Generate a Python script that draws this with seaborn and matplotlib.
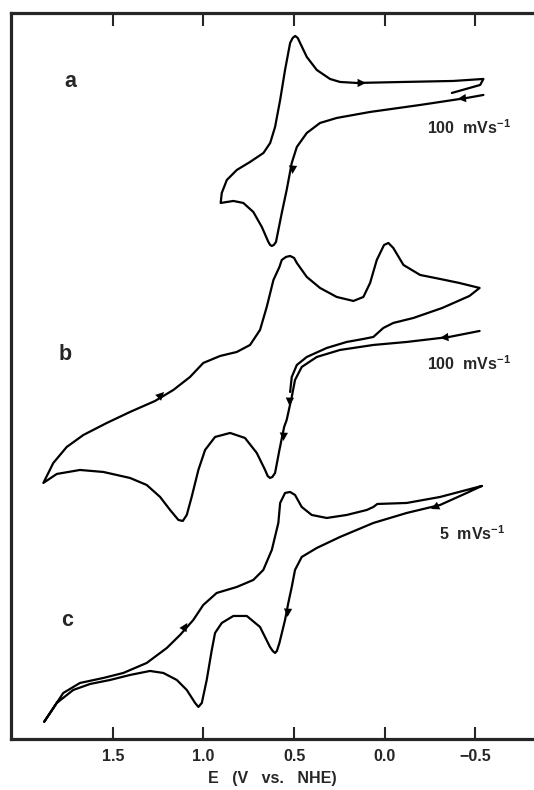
"""
Cyclic voltammograms a, b, c (E vs NHE), stacked with offsets
"""

import matplotlib
matplotlib.use('Agg')
import matplotlib.pyplot as plt
import seaborn as sns
import pandas as pd

# --- data (potential in V, current in arbitrary offset units) ---
a_E = [-0.544, -0.452, -0.195, 0.081, 0.265, 0.357, 0.430, 0.485, 0.513, 0.541, 0.568, 0.600,
       0.612, 0.623, 0.632, 0.642, 0.678, 0.725, 0.780, 0.835, 0.905, 0.899, 0.871, 0.816,
       0.743, 0.669, 0.632, 0.605, 0.577, 0.550, 0.522, 0.508, 0.494, 0.480, 0.467, 0.430,
       0.375, 0.302, 0.247, 0.154, -0.103, -0.378, -0.544, -0.526, -0.370]
a_I = [644, 641, 634, 627, 621, 616, 606, 592, 576, 549, 526, 497,
       494, 493, 494, 497, 512, 527, 536, 538, 536, 546, 559, 569,
       577, 586, 596, 612, 639, 669, 696, 701, 703, 701, 696, 682,
       669, 660, 657, 656, 657, 658, 660, 654, 646]

b_E = [-0.523, -0.355, -0.121, 0.063, 0.247, 0.375, 0.458, 0.495, 0.513, 0.541, 0.555, 0.581,
       0.605, 0.620, 0.633, 0.646, 0.660, 0.706, 0.771, 0.853, 0.936, 0.991, 1.028, 1.065,
       1.092, 1.114, 1.138, 1.184, 1.239, 1.313, 1.405, 1.552, 1.681, 1.809, 1.883,
       1.828, 1.754, 1.662, 1.533, 1.405, 1.267, 1.166, 1.074, 1.001, 0.908, 0.816, 0.743,
       0.688, 0.651, 0.614, 0.581, 0.568, 0.545, 0.522, 0.500, 0.485, 0.430, 0.357, 0.265,
       0.173, 0.118, 0.081, 0.044, 0.004, -0.020, -0.047, -0.103, -0.195, -0.305, -0.411,
       -0.523, -0.467, -0.317, -0.158, -0.047, 0.008, 0.063, 0.118, 0.210, 0.320, 0.430,
       0.485, 0.513, 0.522]
b_I = [408, 402, 397, 394, 389, 382, 372, 359, 342, 319, 312, 289,
       266, 262, 261, 263, 269, 286, 301, 306, 302, 289, 269, 242,
       224, 218, 219, 229, 242, 254, 261, 267, 269, 265, 256,
       276, 292, 304, 316, 327, 338, 349, 362, 376, 383, 387, 394,
       409, 432, 459, 472, 479, 482, 483, 481, 476, 462, 451, 442,
       438, 442, 456, 479, 494, 496, 491, 474, 464, 460, 456,
       451, 443, 431, 421, 416, 411, 402, 400, 397, 391, 382,
       374, 362, 347]

c_E = [-0.535, -0.452, -0.305, -0.121, 0.063, 0.247, 0.375, 0.458, 0.495, 0.513, 0.532, 0.550,
       0.581, 0.595, 0.605, 0.618, 0.633, 0.688, 0.761, 0.835, 0.899, 0.936, 0.954, 0.982,
       1.009, 1.028, 1.046, 1.092, 1.147, 1.221, 1.295, 1.405, 1.515, 1.625, 1.718, 1.809,
       1.879, 1.846, 1.773, 1.681, 1.552, 1.442, 1.313, 1.202, 1.129, 1.056, 1.001, 0.927,
       0.816, 0.725, 0.670, 0.623, 0.587, 0.577, 0.550, 0.522, 0.495, 0.458, 0.403, 0.320,
       0.210, 0.099, 0.063, 0.041, -0.121, -0.305, -0.535]
c_I = [253, 246, 234, 226, 216, 202, 191, 182, 169, 152, 136, 119,
       96, 88, 86, 88, 92, 112, 123, 123, 116, 106, 89, 59,
       36, 32, 36, 49, 59, 66, 68, 64, 59, 55, 49, 36,
       17, 26, 46, 56, 61, 66, 76, 91, 104, 119, 134, 146,
       152, 159, 169, 189, 216, 236, 246, 247, 244, 232, 224, 221,
       224, 229, 232, 235, 236, 242, 253]

# arrow heads: (E, I, dE, dI) pointing along the scan direction
arrows = [(0.154, 656, -0.05, 0), (-0.452, 641, 0.05, -1), (0.504, 579, 0.005, -14),
          (-0.355, 402, 0.05, -1), (0.522, 347, 0.003, -14), (0.555, 312, 0.004, -14),
          (1.267, 338, -0.05, 9),
          (-0.305, 234, 0.05, -4), (0.532, 136, 0.004, -14), (1.129, 104, -0.04, 12)]

curve_labels = ['a', 'b', 'c']
label_pos = [(1.736, 657), (1.763, 384), (1.751, 118)]
rate_labels = ['100  mVs$^{\\mathbf{-1}}$', '100  mVs$^{\\mathbf{-1}}$', '5  mVs$^{\\mathbf{-1}}$']
rate_pos = [(-0.233, 611), (-0.233, 375), (-0.300, 205)]

ticks = [1.5, 1.0, 0.5, 0.0, -0.5]
tick_labels = ['1.5', '1.0', '0.5', '0.0', '\u22120.5']

sns.set_style('ticks')
plt.rcParams['font.family'] = ['Liberation Sans', 'DejaVu Sans']
plt.rcParams['mathtext.fontset'] = 'custom'
plt.rcParams['mathtext.rm'] = 'Liberation Sans'
plt.rcParams['mathtext.bf'] = 'Liberation Sans:bold'

fig = plt.figure(figsize=(5.34, 7.90), dpi=100)
ax = fig.add_axes([0.0197, 0.0646, 0.9803, 0.919])

for E, I in [(a_E, a_I), (b_E, b_I), (c_E, c_I)]:
    df = pd.DataFrame({'E': E, 'I': I})
    sns.lineplot(data=df, x='E', y='I', sort=False, estimator=None,
                 color='black', linewidth=1.6, ax=ax)

for x, y, dx, dy in arrows:
    ax.annotate('', xy=(x + dx, y + dy), xytext=(x, y),
                arrowprops=dict(arrowstyle='-|>', color='black', lw=0,
                                mutation_scale=15, shrinkA=0, shrinkB=0))

for lab, (x, y) in zip(curve_labels, label_pos):
    ax.text(x, y, lab, fontsize=15.5, fontweight='bold', ha='center', va='center')
for lab, (x, y) in zip(rate_labels, rate_pos):
    ax.text(x, y, lab, fontsize=11.5, fontweight='bold', ha='left', va='center')

ax.set_xlim(2.064, -0.823)
ax.set_ylim(0, 726)
ax.set_xticks(ticks)
ax.set_xticklabels(tick_labels, fontsize=11.5, fontweight='bold')
ax.set_yticks([])
ax.tick_params(axis='x', direction='in', length=9, width=1.5, top=True, bottom=True,
               labeltop=False, pad=7)
ax.set_xlabel('E   (V   vs.   NHE)', fontsize=11.5, fontweight='bold')
ax.xaxis.set_label_coords(0.5, -0.044)
ax.set_ylabel('')

for side in ['left', 'bottom', 'top']:
    ax.spines[side].set_linewidth(2.3)
ax.spines['right'].set_visible(False)

plt.savefig('out.png', dpi=100)
